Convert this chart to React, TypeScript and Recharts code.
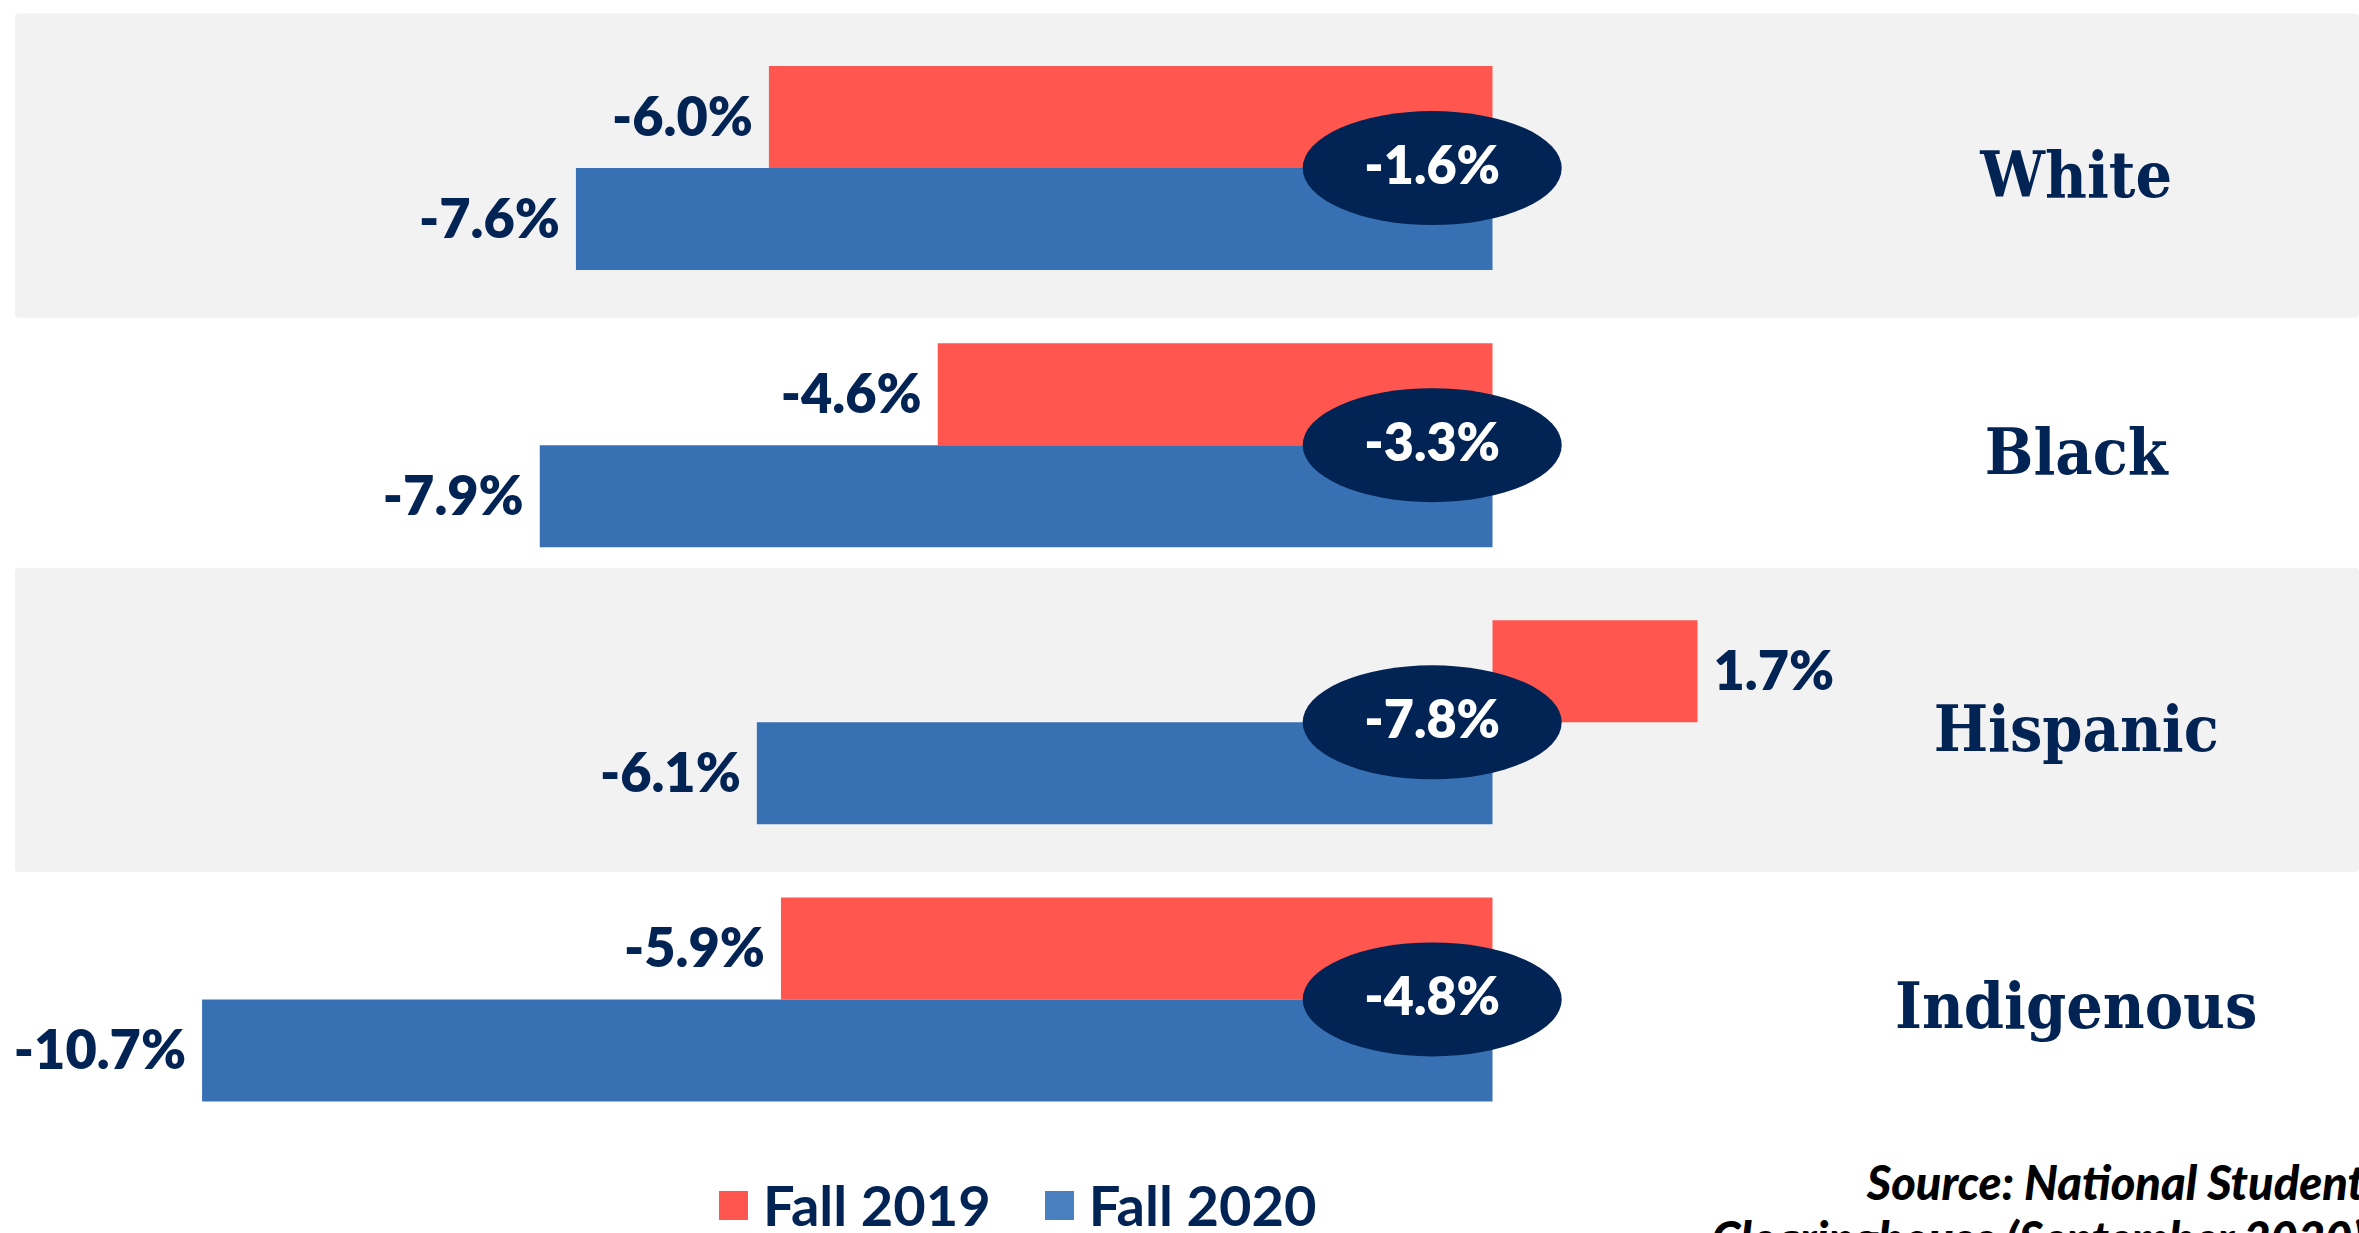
import React from 'react';
import { BarChart, Bar, XAxis, YAxis, ReferenceArea, ReferenceDot, LabelList, Legend } from 'recharts';

const categories = ['White', 'Black', 'Hispanic', 'Indigenous'];
const fall2019 = [-6.0, -4.6, 1.7, -5.9];
const fall2020 = [-7.6, -7.9, -6.1, -10.7];
const changeLabels = ['-1.6%', '-3.3%', '-7.8%', '-4.8%'];
const shadedCategories = ['White', 'Hispanic'];
const seriesNames = ['Fall 2019', 'Fall 2020'];
const sourceLines = ['Source: National Student', 'Clearinghouse (September 2020)'];

const data = categories.map((name, i) => ({ name, fall2019: fall2019[i], fall2020: fall2020[i] }));

const NAVY = '#022455';
const RED = '#FF5650';
const BLUE = '#3870B4';
const LEGEND_BLUE = '#4B80C0';
const BAND = '#F2F2F2';
const LABEL_FONT = "Lato, 'Open Sans', sans-serif";
const SERIF_FONT = "'DejaVu Serif Condensed', 'DejaVu Serif', serif";

const W = 2359;
const H = 1233;
const MARGIN = { top: 29.5, right: 0, bottom: 95, left: 45.3 };
const YAXIS_W = 323.8;

const fmt = (v: number) => `${v.toFixed(1)}%`;

const ValueLabel = (props: any) => {
  const { x, y, width, height, value } = props;
  const left = Math.min(x, x + width);
  const right = Math.max(x, x + width);
  const neg = value < 0;
  const fs = 54;
  return (
    <text
      x={neg ? left - 16 : right + 16}
      y={y + height / 2 + 0.35 * fs}
      textAnchor={neg ? 'end' : 'start'}
      fill={NAVY}
      fontFamily={LABEL_FONT}
      fontWeight={800}
      fontSize={fs}
    >
      {fmt(value)}
    </text>
  );
};

const CategoryTick = (props: any) => {
  const { x, y, payload } = props;
  return (
    <text
      x={x + 33}
      y={y + 29}
      textAnchor="middle"
      fill={NAVY}
      fontFamily={SERIF_FONT}
      fontWeight={700}
      fontSize={64}
      style={{ fontStretch: 'condensed' }}
    >
      {payload.value}
    </text>
  );
};

const BandShape = (props: any) => (
  <rect
    x={props.x - MARGIN.left + 15}
    y={props.y - 16}
    width={props.width + MARGIN.left - 15 + YAXIS_W}
    height={props.height + 27}
    rx={4}
    fill={BAND}
  />
);

const makeBubble = (label: string) => (props: any) => {
  const { cx, cy } = props;
  const fs = 52;
  return (
    <g>
      <ellipse cx={cx} cy={cy} rx={129.5} ry={57} fill={NAVY} />
      <text
        x={cx}
        y={cy - 3 + 0.36 * fs}
        textAnchor="middle"
        fill="#FFFFFF"
        fontFamily={LABEL_FONT}
        fontWeight={800}
        fontSize={fs}
      >
        {label}
      </text>
    </g>
  );
};

const LegendContent = () => (
  <div
    style={{
      display: 'flex',
      alignItems: 'center',
      fontFamily: LABEL_FONT,
      fontWeight: 700,
      fontSize: 56,
      lineHeight: '52px',
      color: NAVY,
      whiteSpace: 'nowrap',
    }}
  >
    {seriesNames.map((n, i) => (
      <div key={n} style={{ display: 'flex', alignItems: 'center', marginRight: i === 0 ? 54 : 0 }}>
        <span
          style={{
            width: 29,
            height: 29,
            background: i === 0 ? RED : LEGEND_BLUE,
            marginRight: 15,
            display: 'inline-block',
          }}
        />
        <span>{n}</span>
      </div>
    ))}
  </div>
);

export default function App() {
  return (
    <div
      style={{
        position: 'absolute',
        left: 0,
        top: 0,
        width: W,
        height: H,
        overflow: 'hidden',
        background: '#FFFFFF',
      }}
    >
      <BarChart
        width={W}
        height={H}
        data={data}
        layout="vertical"
        margin={MARGIN}
        barCategoryGap={36.5}
        barGap={0}
      >
        <XAxis type="number" domain={[-12, 4.5]} hide allowDataOverflow />
        <YAxis
          type="category"
          dataKey="name"
          orientation="right"
          width={YAXIS_W}
          axisLine={false}
          tickLine={false}
          tick={<CategoryTick />}
          interval={0}
        />
        {shadedCategories.map((c) => (
          <ReferenceArea key={c} y1={c} y2={c} ifOverflow="visible" shape={BandShape} />
        ))}
        <Legend
          layout="horizontal"
          verticalAlign="middle"
          align="center"
          content={<LegendContent />}
          wrapperStyle={{ left: 719, top: 1179, width: 'auto' }}
        />
        <Bar dataKey="fall2019" name={seriesNames[0]} fill={RED} isAnimationActive={false}>
          <LabelList dataKey="fall2019" content={<ValueLabel />} />
        </Bar>
        <Bar dataKey="fall2020" name={seriesNames[1]} fill={BLUE} isAnimationActive={false}>
          <LabelList dataKey="fall2020" content={<ValueLabel />} />
        </Bar>
        {categories.map((c, i) => (
          <ReferenceDot key={c} x={-0.5} y={c} ifOverflow="visible" shape={makeBubble(changeLabels[i])} />
        ))}
      </BarChart>
      <div
        style={{
          position: 'absolute',
          right: -6,
          top: 1154,
          textAlign: 'right',
          fontFamily: LABEL_FONT,
          fontWeight: 900,
          fontStyle: 'italic',
          fontSize: 47,
          lineHeight: '56px',
          color: '#000000',
          whiteSpace: 'nowrap',
        }}
      >
        {sourceLines.map((l) => (
          <div key={l}>{l}</div>
        ))}
      </div>
    </div>
  );
}
